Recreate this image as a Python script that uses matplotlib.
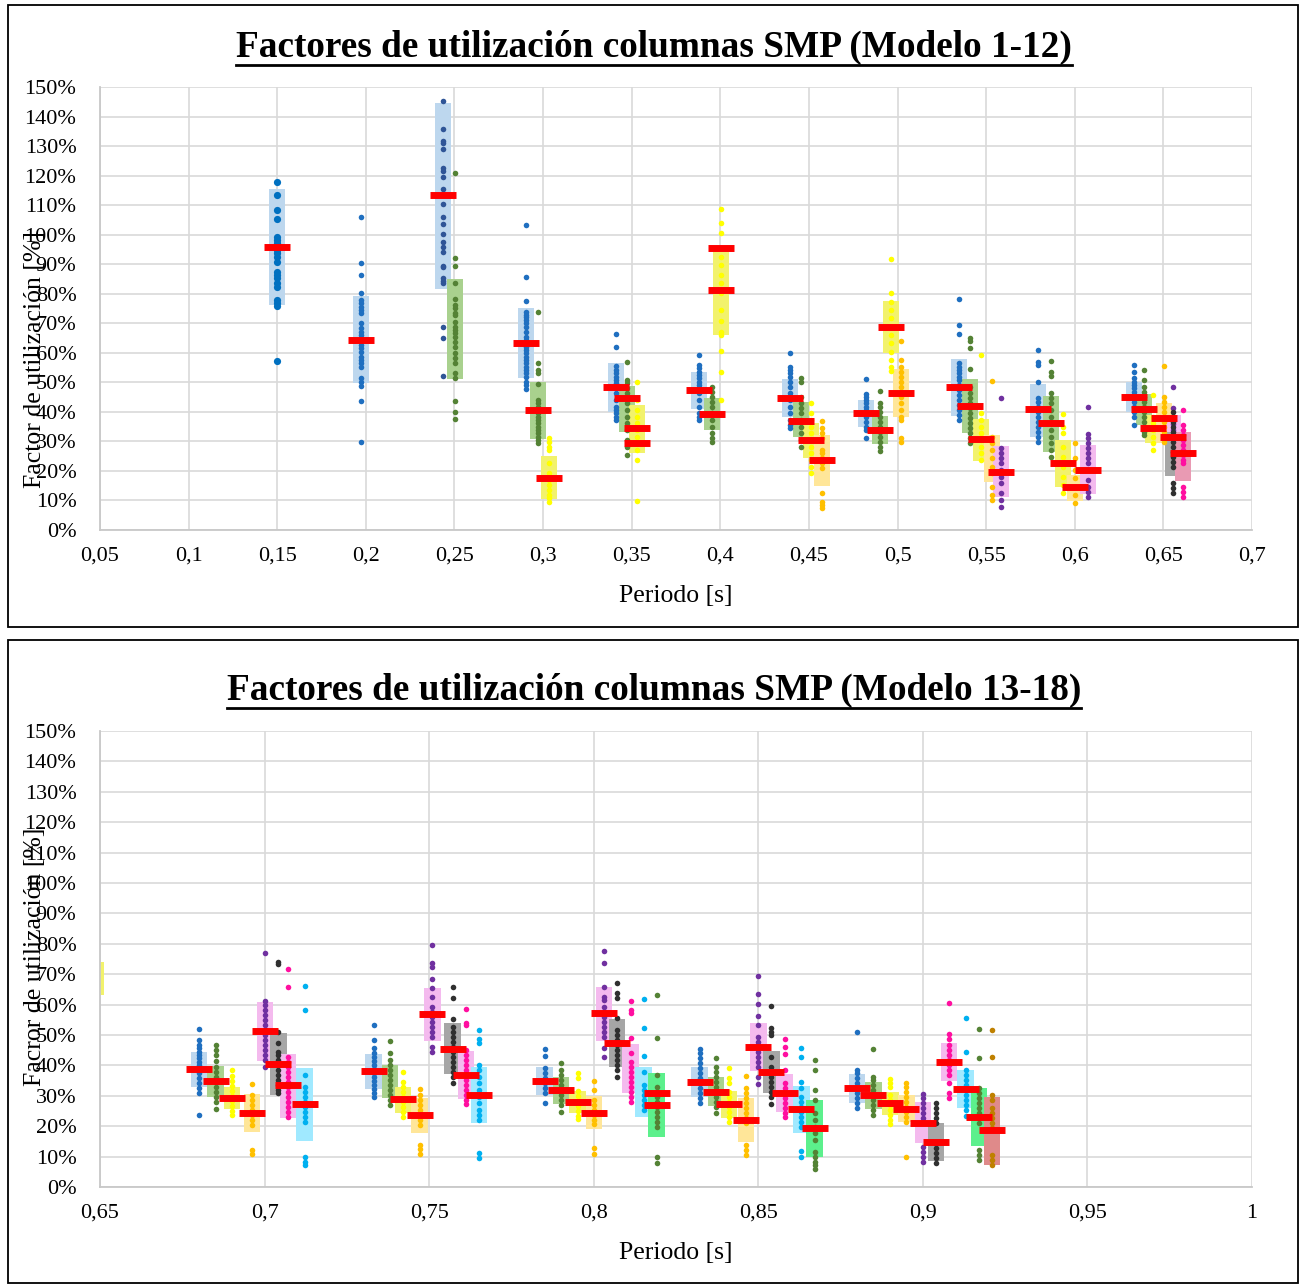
import matplotlib
matplotlib.use('Agg')
import matplotlib.pyplot as plt
from matplotlib.lines import Line2D
from matplotlib.patches import Rectangle

plt.rcParams['font.family'] = ['Liberation Serif', 'DejaVu Serif']

###
# Modelo 1-12: one entry per series (period, colour, box range, mean bars, points)
top_x = [0.1500, 0.1973, 0.2434, 0.2505, 0.2902, 0.2973, 0.3033, 0.3414, 0.3474, 0.3532,
         0.3882, 0.3953, 0.4002, 0.4393, 0.4453, 0.4513, 0.4572, 0.4824, 0.4903, 0.4961,
         0.5021, 0.5345, 0.5411, 0.5471, 0.5531, 0.5584, 0.5795, 0.5865, 0.5932, 0.6002,
         0.6072, 0.6333, 0.6393, 0.6444, 0.6502, 0.6555, 0.6555, 0.6613]
top_key = ['blue_l', 'blue', 'navy', 'green', 'blue', 'green', 'yellow', 'blue', 'green', 'yellow',
           'blue', 'green', 'yellow', 'blue', 'green', 'yellow', 'orange', 'blue', 'green', 'yellow',
           'orange', 'blue', 'green', 'yellow', 'orange', 'purple', 'blue', 'green', 'yellow', 'orange',
           'purple', 'blue', 'green', 'yellow', 'orange', 'purple', 'black', 'pink']
top_lo = [76.2, 49.7, 81.6, 51.0, 51.4, 30.7, 10.4, 40.1, 33.3, 26.2,
          40.9, 33.8, 66.0, 38.2, 31.4, 24.3, 14.9, 35.0, 29.1, 59.8,
          38.4, 38.7, 32.7, 23.5, 16.2, 11.1, 31.6, 26.5, 14.7, 9.9,
          12.1, 40.1, 35.6, 29.6, 29.4, 29.7, 18.4, 16.7]
top_hi = [115.5, 79.2, 144.7, 84.9, 75.3, 50.2, 25.1, 56.7, 48.8, 42.3,
          53.4, 44.6, 94.8, 51.0, 43.2, 36.1, 32.2, 44.0, 38.6, 77.5,
          54.5, 57.9, 51.0, 37.5, 32.0, 28.4, 49.4, 45.5, 30.5, 18.6,
          28.8, 50.0, 46.1, 38.8, 42.9, 38.8, 33.3, 33.1]
top_mean = [[95.9], [64.5], [113.3], [], [63.3], [40.6], [17.7], [48.5], [44.8], [34.4, 29.6],
            [47.3], [39.4], [95.6, 81.3], [44.8], [36.9], [30.4], [23.6], [39.6], [34.0], [68.7],
            [46.5], [48.5], [42.1], [30.7], [], [19.8], [40.9], [36.1], [22.8], [14.4],
            [20.4], [45.2], [41.0], [34.4], [38.0], [31.6], [], [26.2]]
top_pts = [
    [117.7, 113.4, 108.4, 105.2, 99.3, 98.2, 97.1, 95.9, 94.8, 93.7, 92.6, 90.9, 87.5, 86.4, 85.2, 83.5, 82.4, 77.9, 76.8, 75.9, 57.3],
    [105.9, 90.4, 86.4, 80.4, 77.9, 76.8, 75.6, 74.5, 73.4, 70.2, 68.3, 67.2, 66.0, 64.3, 62.6, 61.5, 60.4, 58.7, 57.6, 56.4, 55.3, 51.4, 50.2, 48.8, 43.6, 29.7],
    [145.3, 135.8, 131.8, 130.9, 128.9, 122.5, 121.4, 119.5, 115.5, 110.3, 106.1, 103.6, 100.2, 97.4, 95.9, 94.0, 89.4, 88.9, 85.2, 84.3, 83.5, 68.8, 64.9, 52.1],
    [120.8, 92.0, 89.4, 83.5, 78.2, 76.2, 75.1, 73.4, 72.8, 70.3, 68.8, 67.7, 66.6, 65.5, 63.8, 62.1, 59.8, 58.1, 56.4, 53.0, 51.4, 43.7, 40.1, 37.5],
    [103.3, 85.5, 77.7, 73.9, 72.8, 72.2, 71.1, 70.0, 68.8, 67.2, 65.5, 64.3, 63.2, 62.1, 61.0, 59.8, 58.7, 57.6, 56.4, 55.3, 54.2, 53.0, 51.9, 50.2, 49.1, 47.6],
    [73.9, 56.6, 54.2, 53.3, 49.3, 44.0, 42.9, 41.8, 40.6, 39.5, 38.4, 37.3, 36.1, 35.0, 33.9, 32.7, 31.6, 30.5, 29.4],
    [31.3, 29.9, 28.2, 27.1, 22.6, 19.2, 16.9, 15.2, 13.5, 11.9, 10.7, 9.6],
    [66.3, 62.1, 55.5, 54.2, 53.0, 51.9, 50.8, 49.7, 48.5, 46.3, 44.0, 41.8, 40.6, 39.5, 38.4, 37.3],
    [57.0, 50.8, 49.7, 48.0, 46.3, 44.6, 42.9, 40.6, 38.4, 36.1, 33.9, 30.5, 28.2, 25.4],
    [50.2, 44.0, 40.6, 38.4, 36.1, 33.9, 31.6, 29.4, 27.1, 23.7, 9.9],
    [59.3, 55.9, 54.8, 53.6, 52.5, 51.4, 50.2, 49.1, 48.0, 46.3, 44.0, 41.8, 39.5, 38.4, 37.3],
    [48.5, 46.8, 45.1, 43.4, 41.8, 39.5, 37.3, 35.0, 32.7, 31.0, 29.9],
    [108.7, 103.9, 100.5, 92.6, 89.7, 86.4, 83.5, 80.1, 74.5, 70.6, 67.2, 66.0, 60.7, 53.5, 44.0],
    [59.8, 55.3, 54.2, 53.0, 51.9, 50.2, 48.5, 46.3, 44.0, 41.8, 39.5, 37.3, 35.6, 34.4],
    [51.4, 50.2, 45.1, 42.9, 41.2, 39.5, 37.3, 35.0, 32.7, 30.5, 28.2],
    [43.1, 39.5, 37.3, 35.0, 32.7, 30.5, 28.2, 26.0, 23.7, 21.4, 19.2],
    [36.9, 34.4, 32.7, 31.0, 27.1, 26.0, 24.3, 22.6, 20.9, 12.4, 9.6, 8.5, 7.3],
    [51.0, 46.1, 45.1, 44.0, 42.9, 41.8, 40.6, 39.5, 38.4, 36.7, 35.0, 33.9, 31.0],
    [47.1, 42.9, 41.8, 40.1, 38.4, 36.7, 35.0, 33.3, 31.6, 29.9, 28.2, 26.9],
    [91.8, 80.1, 77.3, 74.5, 71.7, 68.8, 66.0, 63.2, 60.4, 57.6, 55.3, 54.0],
    [64.0, 57.6, 55.3, 53.6, 51.9, 50.2, 48.5, 46.8, 45.1, 42.9, 40.6, 38.4, 37.3, 31.0, 29.9],
    [78.2, 69.5, 66.3, 56.4, 55.3, 54.2, 53.0, 51.9, 50.8, 49.1, 47.4, 45.7, 44.0, 42.3, 40.6, 38.9, 37.3],
    [64.9, 64.0, 61.5, 54.4, 48.5, 46.3, 44.6, 42.9, 41.2, 39.5, 37.8, 36.1, 34.4, 32.7, 31.0, 29.4],
    [59.1, 39.5, 37.3, 35.0, 32.7, 30.5, 28.2, 26.0, 23.7],
    [50.6, 31.6, 29.4, 27.1, 24.3, 21.4, 19.2, 14.7, 11.9, 10.2],
    [44.6, 27.7, 26.0, 24.3, 22.6, 20.3, 18.1, 15.8, 12.4, 10.2, 7.9],
    [61.0, 57.0, 55.9, 50.2, 44.6, 43.4, 41.8, 40.1, 38.4, 36.7, 35.0, 33.3, 31.6, 29.9],
    [57.3, 53.6, 52.1, 46.3, 44.6, 42.9, 40.6, 38.4, 36.1, 33.9, 31.6, 29.4, 27.1, 24.8],
    [39.2, 34.8, 32.7, 28.2, 24.8, 21.4, 18.1, 15.2, 12.4],
    [29.4, 24.3, 20.3, 17.5, 14.7, 11.9, 9.0],
    [41.5, 32.5, 31.0, 29.4, 27.7, 26.0, 24.3, 22.6, 16.9, 14.7, 13.0, 11.3],
    [56.0, 53.6, 51.4, 50.2, 49.1, 48.0, 46.8, 45.7, 44.6, 43.4, 41.8, 40.1, 38.4, 35.6],
    [54.2, 50.8, 48.5, 46.8, 45.1, 43.4, 41.8, 40.1, 38.4, 36.7, 35.0, 33.3, 32.2],
    [45.7, 38.4, 36.1, 33.9, 31.6, 29.4, 27.1],
    [55.5, 45.1, 43.4, 41.8, 40.1, 38.4, 36.7, 35.0, 33.3, 31.6, 29.9],
    [48.5, 41.2, 36.0, 34.0],
    [40.1, 38.4, 36.7, 35.0, 33.3, 31.6, 29.9, 28.2, 26.5, 24.8, 23.1, 21.4, 15.8, 14.1, 12.4],
    [40.6, 35.6, 33.9, 32.2, 30.5, 28.8, 27.1, 25.4, 23.7, 22.6, 14.7, 13.0, 11.3],
]
top_ticks = [0.05, 0.1, 0.15, 0.2, 0.25, 0.3, 0.35, 0.4, 0.45, 0.5, 0.55, 0.6, 0.65, 0.7]
top_ticklabels = ['0,05', '0,1', '0,15', '0,2', '0,25', '0,3', '0,35', '0,4', '0,45', '0,5',
                  '0,55', '0,6', '0,65', '0,7']

# Modelo 13-18
bot_x = [0.6488,
         0.6801, 0.6851, 0.6901, 0.6962, 0.7002, 0.7042, 0.7071, 0.7122,
         0.7331, 0.7381, 0.7420, 0.7471, 0.7510, 0.7571, 0.7612, 0.7651,
         0.7851, 0.7901, 0.7951, 0.8001, 0.8031, 0.8071, 0.8112, 0.8152, 0.8191,
         0.8322, 0.8371, 0.8411, 0.8462, 0.8500, 0.8540, 0.8580, 0.8631, 0.8671,
         0.8800, 0.8850, 0.8901, 0.8950, 0.9000, 0.9040, 0.9079, 0.9130, 0.9170, 0.9210]
bot_key = ['yellow',
           'blue', 'green', 'yellow', 'orange', 'purple', 'black', 'magenta', 'cyan',
           'blue', 'green', 'yellow', 'orange', 'purple', 'black', 'magenta', 'cyan',
           'blue', 'green', 'yellow', 'orange', 'purple', 'black', 'magenta', 'cyan', 'lime',
           'blue', 'green', 'yellow', 'orange', 'purple', 'black', 'magenta', 'cyan', 'lime',
           'blue', 'green', 'yellow', 'orange', 'purple', 'black', 'magenta', 'cyan', 'lime', 'brown']
bot_lo = [63.0,
          33.0, 29.7, 25.5, 18.2, 41.6, 30.3, 22.8, 15.2,
          32.3, 29.4, 24.4, 17.7, 48.1, 37.1, 28.8, 20.9,
          30.3, 27.3, 24.2, 19.0, 48.1, 39.4, 30.8, 22.9, 16.3,
          29.7, 26.7, 22.8, 14.9, 38.2, 30.8, 24.6, 17.7, 10.0,
          27.5, 25.7, 23.7, 21.3, 14.4, 8.7, 35.0, 26.1, 13.5, 7.2]
bot_hi = [74.0,
          44.3, 39.8, 32.8, 30.5, 60.8, 50.5, 43.8, 39.2,
          43.8, 40.1, 32.9, 29.4, 65.4, 53.8, 44.7, 39.6,
          39.6, 36.3, 31.6, 29.9, 65.7, 55.2, 47.0, 39.4, 37.4,
          39.6, 36.1, 31.6, 29.4, 53.8, 44.7, 37.1, 33.2, 28.6,
          37.1, 34.6, 31.2, 30.3, 28.0, 21.0, 47.5, 38.5, 32.5, 29.5]
bot_mean = [[],
            [38.9], [35.0], [29.4], [24.4], [51.3], [40.6], [33.4], [27.3],
            [38.2], [], [28.8], [23.6], [56.9], [45.4], [36.9], [30.3],
            [35.0], [31.9], [28.0], [24.4], [57.1], [47.5], [], [], [31.0, 27.1],
            [34.6], [31.4], [27.3], [22.0], [46.0], [37.8], [30.8], [25.5], [19.3],
            [32.5], [30.3], [27.6], [25.8], [21.2], [14.9], [41.2], [32.3], [23.1], [18.8]]
bot_pts = [
    [],
    [51.9, 48.4, 46.7, 45.6, 44.5, 43.4, 42.3, 41.2, 40.1, 39.0, 37.4, 35.7, 34.1, 32.5, 30.8, 23.7],
    [46.7, 45.1, 43.4, 41.4, 39.6, 37.9, 36.3, 34.6, 33.0, 31.4, 29.7, 28.1, 25.5],
    [38.5, 36.6, 35.0, 33.3, 31.7, 30.0, 28.4, 26.7, 25.1, 23.7],
    [33.9, 30.3, 28.6, 27.0, 25.3, 23.7, 22.0, 20.4, 12.2, 10.9],
    [77.1, 61.2, 59.9, 58.2, 56.6, 54.9, 53.3, 51.6, 50.0, 48.4, 46.7, 45.1, 43.4, 41.8, 39.6],
    [74.1, 73.2, 51.1, 47.3, 44.5, 43.4, 41.8, 40.1, 38.5, 36.8, 35.2, 33.6, 31.9, 30.8],
    [71.6, 65.7, 42.9, 41.2, 39.6, 37.9, 36.3, 34.6, 33.0, 31.4, 29.7, 28.1, 26.4, 24.8, 23.1],
    [66.2, 58.2, 36.8, 33.0, 31.4, 29.7, 28.1, 26.4, 24.8, 23.1, 21.5, 10.0, 8.3, 7.2],
    [53.2, 48.2, 45.6, 44.2, 42.9, 41.5, 40.2, 38.9, 37.6, 36.3, 35.0, 33.7, 32.3, 31.0, 29.7],
    [47.9, 44.0, 41.8, 40.1, 38.5, 36.8, 35.2, 33.6, 31.9, 30.3, 28.6, 27.0],
    [37.9, 34.6, 33.0, 31.4, 29.7, 28.1, 26.4, 24.8, 23.1],
    [32.1, 30.3, 28.6, 27.0, 25.3, 23.7, 22.0, 20.4, 13.8, 12.4, 10.9],
    [79.6, 73.8, 72.5, 68.4, 65.4, 62.6, 59.3, 57.7, 56.0, 54.4, 52.7, 51.1, 49.4, 46.2, 44.5],
    [65.7, 62.2, 55.2, 52.7, 51.1, 49.4, 47.8, 46.2, 44.5, 42.9, 41.2, 39.6, 37.9, 36.3, 34.1],
    [58.7, 53.8, 53.3, 45.1, 43.4, 41.8, 40.1, 38.5, 36.8, 35.2, 33.6, 31.9, 30.3, 28.6, 27.3],
    [51.6, 48.6, 47.3, 40.1, 38.5, 36.3, 34.1, 31.9, 29.7, 27.5, 25.3, 23.7, 22.0, 11.3, 9.6],
    [45.3, 43.1, 39.0, 37.4, 35.7, 34.1, 32.5, 30.8, 27.5],
    [40.9, 38.5, 36.8, 35.2, 33.6, 31.9, 30.3, 28.6, 27.0, 24.8],
    [37.4, 35.7, 31.7, 30.0, 28.4, 26.7, 25.1, 23.5, 22.4],
    [35.0, 31.9, 28.6, 27.0, 25.3, 23.7, 22.0, 20.6, 12.7, 10.9],
    [77.7, 73.6, 65.9, 62.6, 61.5, 59.3, 57.7, 56.0, 54.4, 52.7, 51.1, 49.4, 45.6, 42.9],
    [67.0, 63.7, 62.1, 55.5, 51.6, 50.0, 48.4, 46.7, 45.1, 43.4, 41.8, 40.1, 38.5, 36.3],
    [61.1, 58.2, 57.3, 48.9, 44.0, 41.2, 39.6, 37.9, 36.3, 34.6, 33.0, 31.4, 29.7, 28.1],
    [61.7, 52.4, 43.1, 37.9, 33.6, 31.9, 30.3, 28.6, 27.0, 25.3],
    [63.3, 49.1, 36.8, 33.0, 31.4, 29.7, 28.1, 26.4, 24.8, 23.1, 21.5, 19.8, 9.8, 8.0],
    [45.3, 44.0, 42.3, 40.7, 39.0, 37.4, 35.7, 34.1, 32.5, 30.8, 29.2, 27.5],
    [42.3, 39.6, 37.9, 36.3, 34.6, 33.0, 31.4, 29.7, 28.1, 26.4, 24.2],
    [39.0, 35.7, 34.3, 31.4, 29.7, 28.1, 26.4, 24.8, 23.1, 21.5],
    [36.5, 32.5, 30.8, 29.2, 27.5, 25.9, 24.2, 22.6, 21.0, 13.8, 12.2, 10.5],
    [69.4, 63.4, 60.1, 56.3, 53.2, 49.4, 47.8, 46.2, 44.5, 42.9, 41.2, 39.6, 36.3, 33.9],
    [59.5, 52.2, 51.1, 50.0, 42.9, 39.6, 37.9, 36.3, 34.6, 33.0, 31.4, 29.7, 27.3],
    [48.7, 46.2, 43.8, 38.5, 34.1, 32.5, 30.8, 29.2, 27.5, 25.9, 24.2, 22.9],
    [45.8, 42.7, 34.6, 32.5, 29.7, 28.1, 26.4, 24.8, 23.1, 21.5, 19.8, 11.9, 10.0],
    [41.8, 38.5, 31.9, 28.6, 24.2, 22.0, 19.8, 17.7, 15.5, 11.6, 10.0, 8.3, 7.2, 5.8],
    [51.1, 38.5, 37.4, 35.7, 34.1, 32.5, 30.8, 29.2, 27.5, 25.9],
    [45.4, 36.3, 35.2, 33.6, 31.9, 30.3, 28.6, 27.0, 25.3, 23.7],
    [35.4, 34.1, 32.8, 30.3, 28.6, 27.0, 25.3, 23.7, 22.0, 20.7],
    [34.3, 33.0, 31.4, 29.7, 28.1, 26.4, 24.8, 23.1, 21.5, 10.0],
    [30.6, 29.2, 27.5, 25.9, 24.2, 22.6, 13.3, 11.6, 10.0, 8.3],
    [27.5, 25.9, 24.2, 22.6, 21.0, 14.4, 12.7, 11.1, 9.4, 8.0],
    [60.4, 50.2, 48.6, 46.7, 45.1, 43.4, 41.8, 40.1, 38.5, 36.8, 34.1, 30.8, 29.2],
    [55.5, 44.5, 38.5, 36.8, 35.2, 33.6, 31.9, 30.3, 28.6, 27.0, 25.3, 23.4],
    [52.0, 42.3, 32.5, 30.8, 29.2, 27.5, 25.9, 24.2, 22.6, 21.0, 12.2, 10.5, 8.9],
    [51.6, 42.9, 30.3, 28.6, 25.9, 24.2, 22.6, 21.0, 19.3, 10.5, 8.9, 7.2],
]
bot_ticks = [0.65, 0.7, 0.75, 0.8, 0.85, 0.9, 0.95, 1.0]
bot_ticklabels = ['0,65', '0,7', '0,75', '0,8', '0,85', '0,9', '0,95', '1']

y_ticks = list(range(0, 151, 10))

# point colour, box colour, marker size
STYLES = {
    'blue_l': ('#0070C0', '#BDD7EE', 5.2),
    'blue': ('#1F6FC0', '#BDD7EE', 4.0),
    'navy': ('#2F5597', '#BDD7EE', 4.0),
    'green': ('#548235', '#A9D18E', 4.0),
    'yellow': ('#FFFF00', '#F2F26C', 4.0),
    'orange': ('#FFC000', '#FFE699', 4.0),
    'purple': ('#7030A0', '#F4BAEE', 4.0),
    'black': ('#303030', '#A6A6A6', 4.0),
    'magenta': ('#FF0FA0', '#F4BAEE', 4.0),
    'cyan': ('#00B0F0', '#A0E9FF', 4.0),
    'lime': ('#548235', '#5CF08C', 4.0),
    'brown': ('#BF8000', '#DF8A8A', 4.0),
    'pink': ('#FF0FA0', '#E99AB3', 4.0),
}

W, H = 1301, 1286
fig = plt.figure(figsize=(W / 100, H / 100), dpi=100)


def rect_px(x0, y0, x1, y1):
    return [x0 / W, 1 - y1 / H, (x1 - x0) / W, (y1 - y0) / H]


def draw_panel(frame, axbox, title, ylabel, ylabel_y, xs, keys, lows, highs, means, pts,
               xticks, xticklabels, box_px, bar_px, title_y, xlabel_y, uline_y):
    fig.patches.append(Rectangle((frame[0] / W, 1 - frame[3] / H),
                                 (frame[2] - frame[0]) / W, (frame[3] - frame[1]) / H,
                                 transform=fig.transFigure, fill=False, ec='black', lw=1.3))
    ax = fig.add_axes(rect_px(*axbox))
    x0, x1 = xticks[0], xticks[-1]
    ax.set_xlim(x0, x1)
    ax.set_ylim(0, 150)
    scale = (x1 - x0) / (axbox[2] - axbox[0])
    bw = box_px * scale
    mw = bar_px * scale

    for x, k, lo, hi in zip(xs, keys, lows, highs):
        ax.bar(x, hi - lo, bottom=lo, width=bw, color=STYLES[k][1], lw=0, zorder=2)
    for x, k, p in zip(xs, keys, pts):
        if p:
            ax.plot([x] * len(p), p, 'o', ms=STYLES[k][2], color=STYLES[k][0], mec='none', zorder=3)
    for x, m in zip(xs, means):
        for v in m:
            ax.plot([x - mw / 2, x + mw / 2], [v, v], color='#FF0000', lw=5,
                    solid_capstyle='butt', zorder=4)

    ax.set_xticks(xticks)
    ax.set_xticklabels(xticklabels, fontsize=16)
    ax.set_yticks(y_ticks)
    ax.set_yticklabels([f'{v}%' for v in y_ticks], fontsize=16)
    ax.tick_params(length=0)
    ax.tick_params(axis='y', pad=17)
    ax.tick_params(axis='x', pad=12)
    ax.grid(color='#D9D9D9', lw=1.2)
    ax.set_axisbelow(True)
    for s in ['top', 'right']:
        ax.spines[s].set_visible(False)
    ax.spines['left'].set_color('#C8C8C8')
    ax.spines['bottom'].set_color('#C8C8C8')
    ax.spines['left'].set_linewidth(1.3)
    ax.spines['bottom'].set_linewidth(1.3)

    cx = (axbox[0] + axbox[2]) / 2
    fig.text(cx / W, 1 - xlabel_y / H, 'Periodo [s]', fontsize=18.5, ha='center', va='center')
    fig.text(35 / W, 1 - ylabel_y / H, ylabel, fontsize=18.5, rotation=90,
             ha='center', va='center')
    t = fig.text(654 / W, 1 - title_y / H, title, fontsize=26.8, fontweight='bold',
                 ha='center', va='center')

    # underline under the title
    fig.canvas.draw()
    bb = t.get_window_extent(fig.canvas.get_renderer())
    fig.lines.append(Line2D([bb.x0 / W, bb.x1 / W], [1 - uline_y / H] * 2,
                            transform=fig.transFigure, color='black', lw=2))
    return ax


draw_panel((8, 5, 1298, 627), (100, 87, 1252, 530),
           'Factores de utilización columnas SMP (Modelo 1-12)',
           'Factor de utilización [%]', 360,
           top_x, top_key, top_lo, top_hi, top_mean, top_pts,
           top_ticks, top_ticklabels, 16, 26, 47, 596, 65)

draw_panel((8, 640, 1298, 1283), (100, 731, 1252, 1187),
           'Factores de utilización columnas SMP (Modelo 13-18)',
           'Facror de utilización [%]', 957,
           bot_x, bot_key, bot_lo, bot_hi, bot_mean, bot_pts,
           bot_ticks, bot_ticklabels, 16.5, 26, 690, 1253, 708)

fig.savefig('out.png', dpi=100)
